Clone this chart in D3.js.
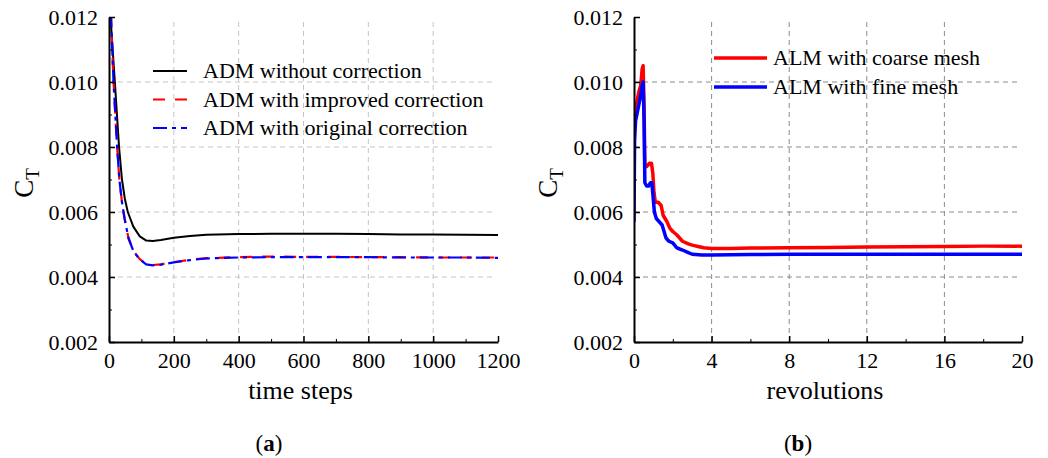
<!DOCTYPE html>
<html>
<head>
<meta charset="utf-8">
<script src="https://cdn.jsdelivr.net/npm/d3@7"></script>
<style>
  body { margin: 0; background: #fff; }
  svg { font-family: "Liberation Serif", "Times New Roman", serif; }
</style>
</head>
<body>
<svg id="svg" width="1048" height="458"></svg>
<script>
// panel (a): time steps vs C_T
const stepsNoCorr = [4, 10, 18, 31, 40, 49, 58, 75, 95, 115, 135, 160, 200, 250, 300, 400, 500, 600, 700, 800, 900, 1000, 1100, 1200]
const ctNoCorr = [0.0121, 0.0112, 0.0100, 0.0080, 0.0070, 0.0064, 0.0060, 0.00555, 0.00525, 0.00512, 0.00511, 0.00514, 0.00521, 0.00526, 0.00530, 0.00532, 0.00533, 0.00533, 0.00533, 0.00532, 0.00531, 0.00531, 0.00530, 0.00529]

const stepsImproved = [6, 10, 14, 25, 32, 40, 48, 60, 75, 95, 115, 135, 160, 200, 250, 300, 400, 500, 600, 700, 800, 900, 1000, 1100, 1200]
const ctImproved = [0.0121, 0.0110, 0.0100, 0.0080, 0.0070, 0.0063, 0.0058, 0.0052, 0.0048, 0.00455, 0.00440, 0.00437, 0.00439, 0.00446, 0.00453, 0.00458, 0.00461, 0.00463, 0.00462, 0.00462, 0.00461, 0.00461, 0.00460, 0.00460, 0.00460]

const stepsOriginal = [6, 10, 14, 25, 32, 40, 48, 60, 75, 95, 115, 135, 160, 200, 250, 300, 400, 500, 600, 700, 800, 900, 1000, 1100, 1200]
const ctOriginal = [0.0121, 0.0110, 0.0100, 0.0080, 0.0070, 0.0063, 0.0058, 0.0052, 0.0048, 0.00454, 0.00439, 0.00436, 0.00438, 0.00445, 0.00452, 0.00457, 0.00460, 0.00461, 0.00461, 0.00461, 0.00461, 0.00460, 0.00460, 0.00460, 0.00459]

// panel (b): revolutions vs C_T
const revCoarse = [0, 0.05, 0.15, 0.25, 0.35, 0.42, 0.47, 0.52, 0.56, 0.65, 0.8, 0.9, 0.97, 1.03, 1.1, 1.25, 1.4, 1.5, 1.6, 1.7, 1.85, 2.0, 2.2, 2.5, 2.8, 3.0, 3.3, 3.6, 4.0, 5, 6, 8, 10, 12, 14, 16, 18, 20]
const ctCoarse = [0.0089, 0.0092, 0.0094, 0.0097, 0.0099, 0.0104, 0.0105, 0.0092, 0.0074, 0.0074, 0.0075, 0.0075, 0.0072, 0.0066, 0.0063, 0.0063, 0.0062, 0.0059, 0.0058, 0.0057, 0.0055, 0.0054, 0.0053, 0.0051, 0.00502, 0.00498, 0.00494, 0.0049, 0.00488, 0.00488, 0.00489, 0.0049, 0.00491, 0.00492, 0.00493, 0.00494, 0.00495, 0.00495]

const revFine = [0, 0.03, 0.08, 0.15, 0.25, 0.35, 0.42, 0.47, 0.52, 0.56, 0.65, 0.75, 0.85, 0.92, 0.98, 1.05, 1.15, 1.3, 1.45, 1.55, 1.65, 1.8, 2.0, 2.2, 2.5, 2.8, 3.0, 3.5, 4, 6, 8, 12, 16, 20]
const ctFine = [0.0057, 0.0082, 0.0088, 0.0090, 0.0093, 0.0096, 0.0099, 0.0100, 0.0088, 0.0069, 0.0068, 0.0068, 0.0069, 0.0069, 0.0065, 0.0060, 0.0058, 0.0057, 0.0056, 0.0054, 0.0052, 0.0051, 0.00505, 0.0049, 0.00483, 0.00475, 0.0047, 0.00468, 0.00468, 0.00469, 0.0047, 0.0047, 0.0047, 0.0047]

const yTicks = [0.002, 0.004, 0.006, 0.008, 0.010, 0.012]
const xTicksA = [0, 200, 400, 600, 800, 1000, 1200]
const xTicksB = [0, 4, 8, 12, 16, 20]

const svg = d3.select("#svg")
const plotTop = 17, plotBottom = 342

function panel(opts) {
    const x = d3.scaleLinear().domain(opts.xDomain).range(opts.xRange)
    const y = d3.scaleLinear().domain([0.002, 0.012]).range([plotBottom, plotTop])
    const g = svg.append("g")

    g.append("clipPath").attr("id", opts.id + "clip")
      .append("rect")
        .attr("x", opts.xRange[0]).attr("y", plotTop)
        .attr("width", opts.xRange[1] - opts.xRange[0]).attr("height", plotBottom - plotTop)

    // grid
    g.append("g").selectAll("line")
      .data(yTicks.slice(1, -1))
      .join("line")
        .attr("x1", opts.xRange[0]).attr("x2", opts.xRange[1] - 4)
        .attr("y1", d => y(d)).attr("y2", d => y(d))
        .attr("stroke", opts.gridColor).attr("stroke-dasharray", "5,4")
    g.append("g").selectAll("line")
      .data(opts.xTicks.slice(1, -1))
      .join("line")
        .attr("x1", d => x(d)).attr("x2", d => x(d))
        .attr("y1", plotBottom).attr("y2", plotTop + 4)
        .attr("stroke", opts.gridColor).attr("stroke-dasharray", "5,4")

    // curves
    const line = d3.line().x(d => x(d[0])).y(d => y(d[1]))
    opts.series.forEach(s => {
        g.append("path")
          .datum(s.xs.map((v, i) => [v, s.ys[i]]))
          .attr("clip-path", `url(#${opts.id}clip)`)
          .attr("fill", "none")
          .attr("stroke", s.color)
          .attr("stroke-width", s.width)
          .attr("stroke-dasharray", s.dash)
          .attr("stroke-linejoin", "round")
          .attr("d", line)
    })

    // minor ticks
    g.append("g").attr("transform", `translate(0,${plotBottom})`)
      .call(d3.axisBottom(x).tickValues(opts.xMinor).tickSizeInner(-3).tickSizeOuter(0).tickFormat(""))
      .call(a => a.select(".domain").remove())
    g.append("g").attr("transform", `translate(${opts.xRange[0]},0)`)
      .call(d3.axisLeft(y).tickValues([0.003, 0.005, 0.007, 0.009, 0.011]).tickSizeInner(-3).tickSizeOuter(0).tickFormat(""))
      .call(a => a.select(".domain").remove())

    // axes
    const xAxis = g.append("g").attr("transform", `translate(0,${plotBottom})`)
      .call(d3.axisBottom(x).tickValues(opts.xTicks).tickFormat(d3.format("d")).tickSizeInner(-6).tickSizeOuter(0).tickPadding(10))
    const yAxis = g.append("g").attr("transform", `translate(${opts.xRange[0]},0)`)
      .call(d3.axisLeft(y).tickValues(yTicks).tickFormat(d3.format(".3f")).tickSizeInner(-6).tickSizeOuter(0).tickPadding(11))
    ;[xAxis, yAxis].forEach(a => {
        a.select(".domain").attr("stroke-width", 2)
        a.selectAll(".tick line").attr("stroke-width", 1.5)
        a.selectAll("text").attr("font-size", 22).attr("font-family", "Liberation Serif, serif").attr("fill", "#000")
    })
    g.selectAll(".tick line").attr("stroke", "#000")

    // legend
    opts.series.forEach((s, i) => {
        const ly = opts.legend.y + i * opts.legend.dy
        g.append("line")
          .attr("x1", opts.legend.x1).attr("x2", opts.legend.x2)
          .attr("y1", ly).attr("y2", ly)
          .attr("stroke", s.color).attr("stroke-width", s.width)
          .attr("stroke-dasharray", s.dash)
        g.append("text")
          .attr("x", opts.legend.tx).attr("y", ly + 7)
          .attr("font-size", 22)
          .text(s.name)
    })

    // axis titles
    const cx = (opts.xRange[0] + opts.xRange[1]) / 2
    g.append("text").attr("x", cx - 3).attr("y", 399)
      .attr("text-anchor", "middle").attr("font-size", 26)
      .text(opts.xTitle)
    const yl = g.append("text")
      .attr("transform", `translate(${opts.yTitleX},183) rotate(-90)`)
      .attr("text-anchor", "middle").attr("font-size", 27)
    yl.append("tspan").text("C")
    yl.append("tspan").attr("font-size", 19).attr("dy", 6).text("T")

    const cap = g.append("text").attr("x", opts.capX).attr("y", 451)
      .attr("text-anchor", "middle").attr("font-size", 23)
    cap.append("tspan").text("(")
    cap.append("tspan").attr("font-weight", "bold").text(opts.cap)
    cap.append("tspan").text(")")
}

panel({
    id: "a",
    xDomain: [0, 1200], xRange: [109, 498],
    xTicks: xTicksA, xMinor: [100, 300, 500, 700, 900, 1100],
    gridColor: "#c4c4c4",
    xTitle: "time steps", yTitleX: 33, capX: 269, cap: "a",
    legend: {x1: 153, x2: 187, tx: 203, y: 71, dy: 28.5},
    series: [
        {name: "ADM without correction", xs: stepsNoCorr, ys: ctNoCorr, color: "#000", width: 2, dash: null},
        {name: "ADM with improved correction", xs: stepsImproved, ys: ctImproved, color: "#ff0000", width: 2.2, dash: "12,10"},
        {name: "ADM with original correction", xs: stepsOriginal, ys: ctOriginal, color: "#0000ff", width: 2.2, dash: "14,5,4,5"}
    ]
})

panel({
    id: "b",
    xDomain: [0, 20], xRange: [634, 1022],
    xTicks: xTicksB, xMinor: [2, 6, 10, 14, 18],
    gridColor: "#8c8c8c",
    xTitle: "revolutions", yTitleX: 557, capX: 798, cap: "b",
    legend: {x1: 714, x2: 767, tx: 773, y: 58, dy: 29},
    series: [
        {name: "ALM with coarse mesh", xs: revCoarse, ys: ctCoarse, color: "#ff0000", width: 3.5, dash: null},
        {name: "ALM with fine mesh", xs: revFine, ys: ctFine, color: "#0000ff", width: 3.5, dash: null}
    ]
})
</script>
</body>
</html>
